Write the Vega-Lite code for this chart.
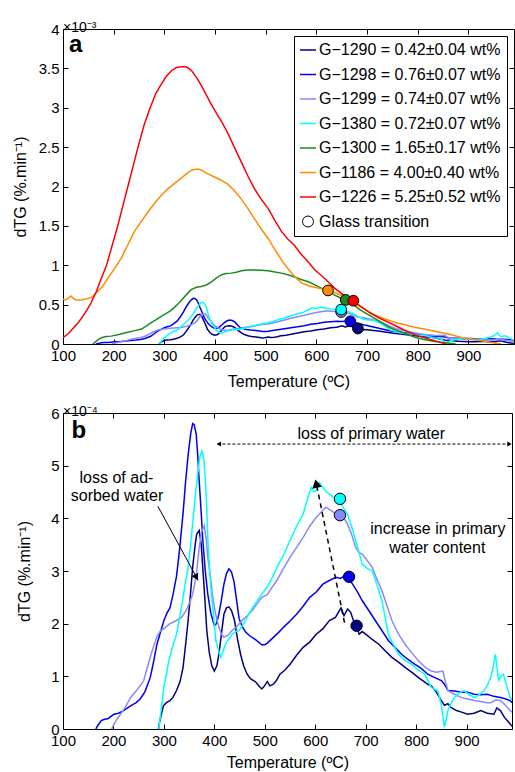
{
"$schema": "https://vega.github.io/schema/vega-lite/v6.json",
"padding": {"left": 11, "top": 20, "right": 1, "bottom": 0},
"config": {
 "font": "Liberation Sans",
 "view": {"stroke": "black", "strokeWidth": 1},
 "axis": {"grid": false, "domain": false, "tickColor": "black", "tickSize": -5, "labelPadding": 9, "labelFontSize": 15, "labelColor": "black", "labelFlush": false, "labelOverlap": false, "titleFontSize": 16, "titleFontWeight": "normal", "titleColor": "black"},
 "axisX": {"titlePadding": 10},
 "axisY": {"titlePadding": 10},
 "title": {"fontSize": 14, "fontWeight": "normal", "anchor": "start", "offset": -13, "color": "black", "frame": "group"}
},
"datasets": {
 "c": [
{"s":"G-1290","T":289,"v":0},{"s":"G-1290","T":293,"v":0.2},{"s":"G-1290","T":299,"v":0.44},{"s":"G-1290","T":305,"v":0.5},{"s":"G-1290","T":312,"v":0.54},{"s":"G-1290","T":318,"v":0.6},{"s":"G-1290","T":325,"v":0.73},{"s":"G-1290","T":332,"v":0.9},{"s":"G-1290","T":338,"v":1.17},{"s":"G-1290","T":343,"v":1.6},{"s":"G-1290","T":348,"v":2.06},{"s":"G-1290","T":353,"v":2.6},{"s":"G-1290","T":357,"v":3.07},{"s":"G-1290","T":362,"v":3.5},{"s":"G-1290","T":365,"v":3.7},{"s":"G-1290","T":370,"v":3.77},{"s":"G-1290","T":374,"v":3.5},{"s":"G-1290","T":377,"v":3.07},{"s":"G-1290","T":381,"v":2.5},{"s":"G-1290","T":385,"v":1.87},{"s":"G-1290","T":390,"v":1.45},{"s":"G-1290","T":395,"v":1.2},{"s":"G-1290","T":400,"v":1.1},{"s":"G-1290","T":405,"v":1.2},{"s":"G-1290","T":409,"v":1.42},{"s":"G-1290","T":414,"v":1.8},{"s":"G-1290","T":419,"v":2.18},{"s":"G-1290","T":424,"v":2.3},{"s":"G-1290","T":429,"v":2.32},{"s":"G-1290","T":434,"v":2.25},{"s":"G-1290","T":440,"v":2.06},{"s":"G-1290","T":446,"v":1.7},{"s":"G-1290","T":452,"v":1.42},{"s":"G-1290","T":458,"v":1.2},{"s":"G-1290","T":465,"v":1.04},{"s":"G-1290","T":472,"v":0.95},{"s":"G-1290","T":481,"v":0.9},{"s":"G-1290","T":488,"v":0.82},{"s":"G-1290","T":494,"v":0.76},{"s":"G-1290","T":498,"v":0.8},{"s":"G-1290","T":505,"v":0.9},{"s":"G-1290","T":510,"v":0.82},{"s":"G-1290","T":517,"v":0.85},{"s":"G-1290","T":523,"v":0.92},{"s":"G-1290","T":530,"v":1.04},{"s":"G-1290","T":540,"v":1.12},{"s":"G-1290","T":550,"v":1.23},{"s":"G-1290","T":563,"v":1.4},{"s":"G-1290","T":576,"v":1.55},{"s":"G-1290","T":589,"v":1.65},{"s":"G-1290","T":602,"v":1.8},{"s":"G-1290","T":615,"v":1.9},{"s":"G-1290","T":628,"v":2.06},{"s":"G-1290","T":640,"v":2.12},{"s":"G-1290","T":651,"v":2.3},{"s":"G-1290","T":657,"v":2.15},{"s":"G-1290","T":664,"v":2.28},{"s":"G-1290","T":670,"v":2.22},{"s":"G-1290","T":676,"v":2.05},{"s":"G-1290","T":682,"v":1.96},{"s":"G-1290","T":687,"v":1.8},{"s":"G-1290","T":693,"v":1.85},{"s":"G-1290","T":700,"v":1.8},{"s":"G-1290","T":713,"v":1.7},{"s":"G-1290","T":726,"v":1.61},{"s":"G-1290","T":739,"v":1.48},{"s":"G-1290","T":752,"v":1.36},{"s":"G-1290","T":765,"v":1.27},{"s":"G-1290","T":778,"v":1.17},{"s":"G-1290","T":791,"v":1.08},{"s":"G-1290","T":804,"v":0.98},{"s":"G-1290","T":813,"v":0.92},{"s":"G-1290","T":823,"v":0.85},{"s":"G-1290","T":830,"v":0.82},{"s":"G-1290","T":840,"v":0.7},{"s":"G-1290","T":850,"v":0.54},{"s":"G-1290","T":856,"v":0.45},{"s":"G-1290","T":863,"v":0.48},{"s":"G-1290","T":869,"v":0.41},{"s":"G-1290","T":880,"v":0.35},{"s":"G-1290","T":890,"v":0.32},{"s":"G-1290","T":902,"v":0.28},{"s":"G-1290","T":915,"v":0.3},{"s":"G-1290","T":928,"v":0.35},{"s":"G-1290","T":941,"v":0.3},{"s":"G-1290","T":954,"v":0.28},{"s":"G-1290","T":960,"v":0.4},{"s":"G-1290","T":967,"v":0.35},{"s":"G-1290","T":975,"v":0.22},{"s":"G-1290","T":986,"v":0.1},{"s":"G-1290","T":990,"v":0.05},
{"s":"G-1298","T":165,"v":0},{"s":"G-1298","T":170,"v":0.08},{"s":"G-1298","T":176,"v":0.16},{"s":"G-1298","T":181,"v":0.18},{"s":"G-1298","T":190,"v":0.2},{"s":"G-1298","T":201,"v":0.28},{"s":"G-1298","T":210,"v":0.3},{"s":"G-1298","T":220,"v":0.35},{"s":"G-1298","T":234,"v":0.44},{"s":"G-1298","T":245,"v":0.5},{"s":"G-1298","T":253,"v":0.57},{"s":"G-1298","T":262,"v":0.7},{"s":"G-1298","T":268,"v":0.85},{"s":"G-1298","T":273,"v":0.98},{"s":"G-1298","T":280,"v":1.3},{"s":"G-1298","T":286,"v":1.6},{"s":"G-1298","T":292,"v":1.8},{"s":"G-1298","T":300,"v":2.06},{"s":"G-1298","T":306,"v":2.2},{"s":"G-1298","T":312,"v":2.3},{"s":"G-1298","T":318,"v":2.55},{"s":"G-1298","T":325,"v":2.9},{"s":"G-1298","T":331,"v":3.4},{"s":"G-1298","T":338,"v":4.1},{"s":"G-1298","T":343,"v":4.7},{"s":"G-1298","T":348,"v":5.2},{"s":"G-1298","T":353,"v":5.6},{"s":"G-1298","T":357,"v":5.8},{"s":"G-1298","T":360,"v":5.78},{"s":"G-1298","T":364,"v":5.6},{"s":"G-1298","T":367,"v":5.2},{"s":"G-1298","T":370,"v":4.7},{"s":"G-1298","T":374,"v":4.1},{"s":"G-1298","T":377,"v":3.6},{"s":"G-1298","T":382,"v":3.0},{"s":"G-1298","T":387,"v":2.56},{"s":"G-1298","T":393,"v":2.2},{"s":"G-1298","T":400,"v":1.96},{"s":"G-1298","T":404,"v":2.0},{"s":"G-1298","T":409,"v":2.18},{"s":"G-1298","T":414,"v":2.45},{"s":"G-1298","T":419,"v":2.75},{"s":"G-1298","T":424,"v":2.95},{"s":"G-1298","T":429,"v":3.04},{"s":"G-1298","T":434,"v":2.98},{"s":"G-1298","T":439,"v":2.8},{"s":"G-1298","T":444,"v":2.45},{"s":"G-1298","T":449,"v":2.1},{"s":"G-1298","T":455,"v":1.95},{"s":"G-1298","T":462,"v":1.84},{"s":"G-1298","T":470,"v":1.77},{"s":"G-1298","T":481,"v":1.7},{"s":"G-1298","T":494,"v":1.6},{"s":"G-1298","T":500,"v":1.6},{"s":"G-1298","T":505,"v":1.63},{"s":"G-1298","T":517,"v":1.74},{"s":"G-1298","T":527,"v":1.83},{"s":"G-1298","T":537,"v":1.93},{"s":"G-1298","T":550,"v":2.05},{"s":"G-1298","T":563,"v":2.18},{"s":"G-1298","T":576,"v":2.33},{"s":"G-1298","T":589,"v":2.5},{"s":"G-1298","T":602,"v":2.6},{"s":"G-1298","T":615,"v":2.75},{"s":"G-1298","T":628,"v":2.82},{"s":"G-1298","T":641,"v":2.88},{"s":"G-1298","T":650,"v":2.86},{"s":"G-1298","T":657,"v":2.9},{"s":"G-1298","T":665,"v":2.88},{"s":"G-1298","T":674,"v":2.75},{"s":"G-1298","T":684,"v":2.6},{"s":"G-1298","T":693,"v":2.44},{"s":"G-1298","T":706,"v":2.25},{"s":"G-1298","T":719,"v":2.06},{"s":"G-1298","T":732,"v":1.87},{"s":"G-1298","T":745,"v":1.68},{"s":"G-1298","T":758,"v":1.55},{"s":"G-1298","T":771,"v":1.42},{"s":"G-1298","T":784,"v":1.32},{"s":"G-1298","T":797,"v":1.23},{"s":"G-1298","T":810,"v":1.15},{"s":"G-1298","T":823,"v":1.04},{"s":"G-1298","T":836,"v":0.98},{"s":"G-1298","T":850,"v":0.92},{"s":"G-1298","T":856,"v":0.85},{"s":"G-1298","T":863,"v":0.73},{"s":"G-1298","T":876,"v":0.72},{"s":"G-1298","T":889,"v":0.7},{"s":"G-1298","T":902,"v":0.7},{"s":"G-1298","T":915,"v":0.66},{"s":"G-1298","T":928,"v":0.65},{"s":"G-1298","T":941,"v":0.66},{"s":"G-1298","T":954,"v":0.62},{"s":"G-1298","T":967,"v":0.6},{"s":"G-1298","T":975,"v":0.58},{"s":"G-1298","T":986,"v":0.54},{"s":"G-1298","T":990,"v":0.5},
{"s":"G-1299","T":196,"v":0},{"s":"G-1299","T":203,"v":0.12},{"s":"G-1299","T":208,"v":0.2},{"s":"G-1299","T":214,"v":0.28},{"s":"G-1299","T":224,"v":0.42},{"s":"G-1299","T":234,"v":0.6},{"s":"G-1299","T":245,"v":0.72},{"s":"G-1299","T":253,"v":0.82},{"s":"G-1299","T":260,"v":0.92},{"s":"G-1299","T":268,"v":1.2},{"s":"G-1299","T":274,"v":1.4},{"s":"G-1299","T":279,"v":1.55},{"s":"G-1299","T":286,"v":1.75},{"s":"G-1299","T":292,"v":1.85},{"s":"G-1299","T":299,"v":1.9},{"s":"G-1299","T":312,"v":2.0},{"s":"G-1299","T":325,"v":2.06},{"s":"G-1299","T":335,"v":2.12},{"s":"G-1299","T":344,"v":2.25},{"s":"G-1299","T":351,"v":2.4},{"s":"G-1299","T":357,"v":2.56},{"s":"G-1299","T":364,"v":2.9},{"s":"G-1299","T":370,"v":3.45},{"s":"G-1299","T":375,"v":3.75},{"s":"G-1299","T":380,"v":3.86},{"s":"G-1299","T":384,"v":3.6},{"s":"G-1299","T":387,"v":3.26},{"s":"G-1299","T":392,"v":2.9},{"s":"G-1299","T":396,"v":2.56},{"s":"G-1299","T":402,"v":2.2},{"s":"G-1299","T":409,"v":1.93},{"s":"G-1299","T":414,"v":1.8},{"s":"G-1299","T":419,"v":1.74},{"s":"G-1299","T":427,"v":1.78},{"s":"G-1299","T":435,"v":1.87},{"s":"G-1299","T":445,"v":1.95},{"s":"G-1299","T":455,"v":2.06},{"s":"G-1299","T":465,"v":2.15},{"s":"G-1299","T":475,"v":2.25},{"s":"G-1299","T":485,"v":2.38},{"s":"G-1299","T":494,"v":2.5},{"s":"G-1299","T":505,"v":2.55},{"s":"G-1299","T":515,"v":2.7},{"s":"G-1299","T":524,"v":2.82},{"s":"G-1299","T":537,"v":3.05},{"s":"G-1299","T":550,"v":3.26},{"s":"G-1299","T":563,"v":3.45},{"s":"G-1299","T":576,"v":3.64},{"s":"G-1299","T":589,"v":3.85},{"s":"G-1299","T":602,"v":4.02},{"s":"G-1299","T":612,"v":4.12},{"s":"G-1299","T":621,"v":4.21},{"s":"G-1299","T":631,"v":4.15},{"s":"G-1299","T":641,"v":4.08},{"s":"G-1299","T":649,"v":4.06},{"s":"G-1299","T":657,"v":4.0},{"s":"G-1299","T":664,"v":3.89},{"s":"G-1299","T":672,"v":3.7},{"s":"G-1299","T":680,"v":3.45},{"s":"G-1299","T":687,"v":3.35},{"s":"G-1299","T":693,"v":3.32},{"s":"G-1299","T":703,"v":3.2},{"s":"G-1299","T":713,"v":3.07},{"s":"G-1299","T":722,"v":2.85},{"s":"G-1299","T":732,"v":2.63},{"s":"G-1299","T":742,"v":2.35},{"s":"G-1299","T":752,"v":2.06},{"s":"G-1299","T":765,"v":1.8},{"s":"G-1299","T":778,"v":1.61},{"s":"G-1299","T":791,"v":1.45},{"s":"G-1299","T":804,"v":1.3},{"s":"G-1299","T":817,"v":1.18},{"s":"G-1299","T":830,"v":1.1},{"s":"G-1299","T":840,"v":1.08},{"s":"G-1299","T":853,"v":1.1},{"s":"G-1299","T":858,"v":0.9},{"s":"G-1299","T":863,"v":0.73},{"s":"G-1299","T":876,"v":0.66},{"s":"G-1299","T":889,"v":0.6},{"s":"G-1299","T":902,"v":0.57},{"s":"G-1299","T":915,"v":0.54},{"s":"G-1299","T":928,"v":0.52},{"s":"G-1299","T":941,"v":0.5},{"s":"G-1299","T":948,"v":0.5},{"s":"G-1299","T":957,"v":0.55},{"s":"G-1299","T":967,"v":0.54},{"s":"G-1299","T":977,"v":0.45},{"s":"G-1299","T":986,"v":0.35},{"s":"G-1299","T":990,"v":0.32},
{"s":"G-1380","T":290,"v":0},{"s":"G-1380","T":295,"v":0.4},{"s":"G-1380","T":300,"v":0.8},{"s":"G-1380","T":305,"v":1.04},{"s":"G-1380","T":310,"v":1.3},{"s":"G-1380","T":315,"v":1.49},{"s":"G-1380","T":320,"v":1.65},{"s":"G-1380","T":325,"v":1.8},{"s":"G-1380","T":331,"v":2.1},{"s":"G-1380","T":338,"v":2.5},{"s":"G-1380","T":343,"v":2.8},{"s":"G-1380","T":348,"v":3.07},{"s":"G-1380","T":353,"v":3.5},{"s":"G-1380","T":357,"v":3.9},{"s":"G-1380","T":362,"v":4.4},{"s":"G-1380","T":367,"v":4.84},{"s":"G-1380","T":371,"v":5.15},{"s":"G-1380","T":375,"v":5.28},{"s":"G-1380","T":378,"v":5.2},{"s":"G-1380","T":380,"v":5.03},{"s":"G-1380","T":384,"v":4.4},{"s":"G-1380","T":387,"v":3.64},{"s":"G-1380","T":390,"v":3.1},{"s":"G-1380","T":393,"v":2.69},{"s":"G-1380","T":398,"v":2.2},{"s":"G-1380","T":403,"v":1.68},{"s":"G-1380","T":408,"v":1.5},{"s":"G-1380","T":413,"v":1.36},{"s":"G-1380","T":418,"v":1.5},{"s":"G-1380","T":422,"v":1.61},{"s":"G-1380","T":428,"v":1.7},{"s":"G-1380","T":435,"v":1.8},{"s":"G-1380","T":442,"v":1.85},{"s":"G-1380","T":449,"v":1.87},{"s":"G-1380","T":458,"v":2.0},{"s":"G-1380","T":468,"v":2.18},{"s":"G-1380","T":481,"v":2.38},{"s":"G-1380","T":494,"v":2.56},{"s":"G-1380","T":505,"v":2.7},{"s":"G-1380","T":515,"v":2.88},{"s":"G-1380","T":524,"v":3.07},{"s":"G-1380","T":537,"v":3.3},{"s":"G-1380","T":550,"v":3.58},{"s":"G-1380","T":563,"v":3.85},{"s":"G-1380","T":576,"v":4.08},{"s":"G-1380","T":584,"v":4.35},{"s":"G-1380","T":592,"v":4.59},{"s":"G-1380","T":597,"v":4.5},{"s":"G-1380","T":602,"v":4.53},{"s":"G-1380","T":608,"v":4.68},{"s":"G-1380","T":615,"v":4.59},{"s":"G-1380","T":622,"v":4.5},{"s":"G-1380","T":628,"v":4.46},{"s":"G-1380","T":636,"v":4.4},{"s":"G-1380","T":642,"v":4.38},{"s":"G-1380","T":648,"v":4.34},{"s":"G-1380","T":656,"v":4.2},{"s":"G-1380","T":664,"v":4.08},{"s":"G-1380","T":672,"v":3.85},{"s":"G-1380","T":680,"v":3.58},{"s":"G-1380","T":687,"v":3.35},{"s":"G-1380","T":693,"v":3.13},{"s":"G-1380","T":703,"v":3.05},{"s":"G-1380","T":713,"v":3.0},{"s":"G-1380","T":722,"v":2.75},{"s":"G-1380","T":732,"v":2.44},{"s":"G-1380","T":739,"v":2.1},{"s":"G-1380","T":745,"v":1.8},{"s":"G-1380","T":755,"v":1.6},{"s":"G-1380","T":765,"v":1.42},{"s":"G-1380","T":778,"v":1.3},{"s":"G-1380","T":791,"v":1.23},{"s":"G-1380","T":804,"v":1.12},{"s":"G-1380","T":817,"v":1.04},{"s":"G-1380","T":824,"v":0.9},{"s":"G-1380","T":830,"v":0.79},{"s":"G-1380","T":837,"v":0.75},{"s":"G-1380","T":843,"v":0.73},{"s":"G-1380","T":850,"v":0.45},{"s":"G-1380","T":856,"v":0.03},{"s":"G-1380","T":860,"v":0.2},{"s":"G-1380","T":863,"v":0.35},{"s":"G-1380","T":870,"v":0.5},{"s":"G-1380","T":876,"v":0.6},{"s":"G-1380","T":885,"v":0.68},{"s":"G-1380","T":895,"v":0.73},{"s":"G-1380","T":905,"v":0.65},{"s":"G-1380","T":915,"v":0.6},{"s":"G-1380","T":925,"v":0.65},{"s":"G-1380","T":935,"v":0.73},{"s":"G-1380","T":942,"v":0.85},{"s":"G-1380","T":948,"v":0.98},{"s":"G-1380","T":953,"v":1.2},{"s":"G-1380","T":957,"v":1.42},{"s":"G-1380","T":961,"v":1.1},{"s":"G-1380","T":964,"v":0.92},{"s":"G-1380","T":968,"v":1.0},{"s":"G-1380","T":973,"v":1.04},{"s":"G-1380","T":980,"v":0.8},{"s":"G-1380","T":986,"v":0.6},{"s":"G-1380","T":990,"v":0.55},
{"s":"G-1300","T":159,"v":0},{"s":"G-1300","T":168,"v":0.5},{"s":"G-1300","T":176,"v":0.8},{"s":"G-1300","T":185,"v":0.95},{"s":"G-1300","T":195,"v":1.0},{"s":"G-1300","T":210,"v":1.2},{"s":"G-1300","T":228,"v":1.5},{"s":"G-1300","T":242,"v":1.7},{"s":"G-1300","T":255,"v":1.9},{"s":"G-1300","T":265,"v":2.3},{"s":"G-1300","T":274,"v":2.7},{"s":"G-1300","T":284,"v":3.1},{"s":"G-1300","T":294,"v":3.5},{"s":"G-1300","T":304,"v":3.9},{"s":"G-1300","T":314,"v":4.3},{"s":"G-1300","T":324,"v":4.9},{"s":"G-1300","T":334,"v":5.6},{"s":"G-1300","T":344,"v":6.3},{"s":"G-1300","T":353,"v":6.9},{"s":"G-1300","T":363,"v":7.2},{"s":"G-1300","T":373,"v":7.3},{"s":"G-1300","T":383,"v":7.5},{"s":"G-1300","T":393,"v":7.9},{"s":"G-1300","T":403,"v":8.4},{"s":"G-1300","T":413,"v":8.8},{"s":"G-1300","T":422,"v":8.95},{"s":"G-1300","T":432,"v":9.0},{"s":"G-1300","T":442,"v":9.1},{"s":"G-1300","T":452,"v":9.3},{"s":"G-1300","T":465,"v":9.4},{"s":"G-1300","T":478,"v":9.4},{"s":"G-1300","T":491,"v":9.35},{"s":"G-1300","T":505,"v":9.3},{"s":"G-1300","T":518,"v":9.15},{"s":"G-1300","T":531,"v":9.0},{"s":"G-1300","T":544,"v":8.8},{"s":"G-1300","T":557,"v":8.5},{"s":"G-1300","T":570,"v":8.2},{"s":"G-1300","T":584,"v":7.9},{"s":"G-1300","T":597,"v":7.5},{"s":"G-1300","T":610,"v":7.1},{"s":"G-1300","T":623,"v":6.7},{"s":"G-1300","T":636,"v":6.2},{"s":"G-1300","T":646,"v":5.9},{"s":"G-1300","T":655,"v":5.6},{"s":"G-1300","T":665,"v":5.3},{"s":"G-1300","T":675,"v":4.9},{"s":"G-1300","T":685,"v":4.4},{"s":"G-1300","T":698,"v":3.9},{"s":"G-1300","T":711,"v":3.4},{"s":"G-1300","T":727,"v":2.8},{"s":"G-1300","T":744,"v":2.1},{"s":"G-1300","T":760,"v":1.7},{"s":"G-1300","T":777,"v":1.3},{"s":"G-1300","T":793,"v":0.9},{"s":"G-1300","T":810,"v":0.6},{"s":"G-1300","T":830,"v":0.35},{"s":"G-1300","T":849,"v":0.2},{"s":"G-1300","T":862,"v":0.1},{"s":"G-1300","T":875,"v":0.0},
{"s":"G-1186","T":100,"v":5.7},{"s":"G-1186","T":105,"v":5.6},{"s":"G-1186","T":110,"v":5.8},{"s":"G-1186","T":116,"v":6.1},{"s":"G-1186","T":120,"v":5.8},{"s":"G-1186","T":126,"v":5.6},{"s":"G-1186","T":135,"v":5.6},{"s":"G-1186","T":145,"v":5.7},{"s":"G-1186","T":156,"v":5.9},{"s":"G-1186","T":166,"v":6.5},{"s":"G-1186","T":178,"v":7.3},{"s":"G-1186","T":189,"v":8.4},{"s":"G-1186","T":202,"v":9.6},{"s":"G-1186","T":215,"v":10.9},{"s":"G-1186","T":228,"v":12.6},{"s":"G-1186","T":241,"v":14.3},{"s":"G-1186","T":255,"v":15.6},{"s":"G-1186","T":268,"v":16.8},{"s":"G-1186","T":281,"v":17.9},{"s":"G-1186","T":294,"v":18.9},{"s":"G-1186","T":307,"v":19.7},{"s":"G-1186","T":320,"v":20.4},{"s":"G-1186","T":334,"v":21.1},{"s":"G-1186","T":347,"v":21.8},{"s":"G-1186","T":355,"v":22.1},{"s":"G-1186","T":362,"v":22.2},{"s":"G-1186","T":368,"v":22.2},{"s":"G-1186","T":373,"v":22.1},{"s":"G-1186","T":380,"v":21.8},{"s":"G-1186","T":386,"v":21.6},{"s":"G-1186","T":399,"v":21.2},{"s":"G-1186","T":412,"v":20.8},{"s":"G-1186","T":425,"v":20.3},{"s":"G-1186","T":438,"v":19.5},{"s":"G-1186","T":452,"v":18.4},{"s":"G-1186","T":465,"v":17.2},{"s":"G-1186","T":478,"v":15.9},{"s":"G-1186","T":491,"v":14.6},{"s":"G-1186","T":505,"v":13.4},{"s":"G-1186","T":515,"v":12.3},{"s":"G-1186","T":524,"v":11.4},{"s":"G-1186","T":535,"v":10.3},{"s":"G-1186","T":546,"v":9.4},{"s":"G-1186","T":558,"v":8.5},{"s":"G-1186","T":570,"v":7.8},{"s":"G-1186","T":584,"v":7.4},{"s":"G-1186","T":597,"v":7.2},{"s":"G-1186","T":610,"v":7.0},{"s":"G-1186","T":623,"v":6.8},{"s":"G-1186","T":637,"v":6.5},{"s":"G-1186","T":652,"v":6.1},{"s":"G-1186","T":665,"v":5.6},{"s":"G-1186","T":679,"v":5.0},{"s":"G-1186","T":695,"v":4.4},{"s":"G-1186","T":711,"v":3.8},{"s":"G-1186","T":734,"v":3.2},{"s":"G-1186","T":757,"v":2.7},{"s":"G-1186","T":777,"v":2.4},{"s":"G-1186","T":796,"v":2.1},{"s":"G-1186","T":820,"v":1.8},{"s":"G-1186","T":842,"v":1.5},{"s":"G-1186","T":865,"v":1.2},{"s":"G-1186","T":888,"v":0.8},{"s":"G-1186","T":907,"v":0.6},{"s":"G-1186","T":927,"v":0.4},{"s":"G-1186","T":940,"v":0.25},{"s":"G-1186","T":954,"v":0.1},{"s":"G-1186","T":965,"v":0.0},
{"s":"G-1226","T":100,"v":0.8},{"s":"G-1226","T":110,"v":1.3},{"s":"G-1226","T":120,"v":2.0},{"s":"G-1226","T":130,"v":2.7},{"s":"G-1226","T":140,"v":3.6},{"s":"G-1226","T":148,"v":4.4},{"s":"G-1226","T":155,"v":5.2},{"s":"G-1226","T":166,"v":6.7},{"s":"G-1226","T":176,"v":8.4},{"s":"G-1226","T":186,"v":10.0},{"s":"G-1226","T":197,"v":12.5},{"s":"G-1226","T":208,"v":15.0},{"s":"G-1226","T":218,"v":17.5},{"s":"G-1226","T":228,"v":20.0},{"s":"G-1226","T":238,"v":22.5},{"s":"G-1226","T":248,"v":25.0},{"s":"G-1226","T":260,"v":27.8},{"s":"G-1226","T":272,"v":30.0},{"s":"G-1226","T":283,"v":31.8},{"s":"G-1226","T":294,"v":33.0},{"s":"G-1226","T":304,"v":34.0},{"s":"G-1226","T":314,"v":34.7},{"s":"G-1226","T":324,"v":35.1},{"s":"G-1226","T":334,"v":35.2},{"s":"G-1226","T":343,"v":35.2},{"s":"G-1226","T":350,"v":34.9},{"s":"G-1226","T":355,"v":34.6},{"s":"G-1226","T":364,"v":33.8},{"s":"G-1226","T":373,"v":32.8},{"s":"G-1226","T":383,"v":31.6},{"s":"G-1226","T":392,"v":30.5},{"s":"G-1226","T":403,"v":29.3},{"s":"G-1226","T":414,"v":28.1},{"s":"G-1226","T":425,"v":26.8},{"s":"G-1226","T":438,"v":25.0},{"s":"G-1226","T":452,"v":23.1},{"s":"G-1226","T":465,"v":21.3},{"s":"G-1226","T":478,"v":19.7},{"s":"G-1226","T":491,"v":18.4},{"s":"G-1226","T":505,"v":17.2},{"s":"G-1226","T":518,"v":15.7},{"s":"G-1226","T":531,"v":14.3},{"s":"G-1226","T":544,"v":13.3},{"s":"G-1226","T":557,"v":12.5},{"s":"G-1226","T":570,"v":11.4},{"s":"G-1226","T":584,"v":10.4},{"s":"G-1226","T":597,"v":9.4},{"s":"G-1226","T":610,"v":8.7},{"s":"G-1226","T":623,"v":7.9},{"s":"G-1226","T":636,"v":7.1},{"s":"G-1226","T":648,"v":6.5},{"s":"G-1226","T":660,"v":5.9},{"s":"G-1226","T":673,"v":5.5},{"s":"G-1226","T":689,"v":4.7},{"s":"G-1226","T":705,"v":4.0},{"s":"G-1226","T":724,"v":3.3},{"s":"G-1226","T":744,"v":2.7},{"s":"G-1226","T":763,"v":2.1},{"s":"G-1226","T":783,"v":1.5},{"s":"G-1226","T":803,"v":1.0},{"s":"G-1226","T":823,"v":0.6},{"s":"G-1226","T":840,"v":0.3},{"s":"G-1226","T":855,"v":0.0}
 ],
 "gt": [
  {"s":"G-1290","T":682,"v":1.96},{"s":"G-1298","T":667,"v":2.89},{"s":"G-1299","T":649,"v":4.06},{"s":"G-1380","T":649,"v":4.37},{"s":"G-1300","T":658,"v":5.6},{"s":"G-1186","T":623,"v":6.8},{"s":"G-1226","T":673,"v":5.5}
 ]
},
"vconcat": [
 {
  "width": 451, "height": 315,
  "title": {"text": "×10⁻³"},
  "layer": [
   {
    "data": {"name": "c"},
    "mark": {"type": "line", "strokeWidth": 1.5, "clip": true},
    "encoding": {
     "x": {"field": "T", "type": "quantitative", "scale": {"domain": [100, 990], "nice": false, "zero": false}, "axis": {"values": [100,200,300,400,500,600,700,800,900], "title": "Temperature (ºC)"}},
     "y": {"field": "v", "type": "quantitative", "scale": {"domain": [0, 40], "nice": false}, "axis": {"values": [0,5,10,15,20,25,30,35,40], "labelExpr": "datum.value/10", "title": "dTG (%.min⁻¹)"}},
     "color": {"field": "s", "type": "nominal", "sort": null,
      "scale": {"domain": ["G-1290","G-1298","G-1299","G-1380","G-1300","G-1186","G-1226","GT"], "range": ["#000080","#0000EE","#8888FF","#00FFFF","#1E8A1E","#FF8C00","#FF0000","#000000"]},
      "legend": {"title": null, "orient": "top-right", "offset": 7, "padding": 6, "strokeColor": "black", "fillColor": "white", "cornerRadius": 0,
       "symbolType": "stroke", "symbolSize": 256, "symbolStrokeWidth": 1.5, "labelFontSize": 16, "labelColor": "black", "labelLimit": 300, "rowPadding": 8.5, "labelOffset": 3,
       "labelExpr": "datum.value == 'GT' ? 'Glass transition' : replace(datum.value, '-', '−') + ' = ' + (datum.value == 'G-1290' ? '0.42±0.04' : datum.value == 'G-1298' ? '0.76±0.07' : datum.value == 'G-1299' ? '0.74±0.07' : datum.value == 'G-1380' ? '0.72±0.07' : datum.value == 'G-1300' ? '1.65±0.17' : datum.value == 'G-1186' ? '4.00±0.40' : '5.25±0.52') + ' wt%'",
       "encode": {"symbols": {"update": {
        "shape": {"signal": "datum.value == 'GT' ? 'circle' : 'stroke'"},
        "size": {"signal": "datum.value == 'GT' ? 120 : 256"},
        "strokeWidth": {"signal": "datum.value == 'GT' ? 1 : 1.5"},
        "fill": {"signal": "datum.value == 'GT' ? 'white' : 'transparent'"}
       }}}
      }}
    }
   },
   {
    "data": {"name": "gt"},
    "mark": {"type": "point", "filled": true, "size": 115, "stroke": "black", "strokeWidth": 1, "opacity": 1},
    "encoding": {
     "x": {"field": "T", "type": "quantitative", "axis": {"orient": "top", "labels": false, "title": null, "values": [100,200,300,400,500,600,700,800,900]}},
     "y": {"field": "v", "type": "quantitative", "axis": {"orient": "right", "labels": false, "title": null, "values": [0,5,10,15,20,25,30,35,40]}},
     "fill": {"field": "s", "type": "nominal", "scale": {"domain": ["G-1290","G-1298","G-1299","G-1380","G-1300","G-1186","G-1226"], "range": ["#000080","#0000EE","#8888FF","#00FFFF","#1E8A1E","#FF8C00","#FF0000"]}, "legend": null}
    }
   },
   {
    "data": {"values": [{"T": 112, "v": 37.1, "t": "a"}]},
    "mark": {"type": "text", "align": "left", "baseline": "alphabetic", "fontSize": 24, "fontWeight": "bold", "color": "black"},
    "encoding": {
     "x": {"field": "T", "type": "quantitative", "axis": null},
     "y": {"field": "v", "type": "quantitative", "axis": null},
     "text": {"field": "t"}
    }
   }
  ],
  "resolve": {"axis": {"x": "independent", "y": "independent"}}
 },
 {
  "width": 449, "height": 316,
  "title": {"text": "×10⁻⁴"},
  "layer": [
   {
    "data": {"name": "c"},
    "transform": [{"filter": {"field": "s", "oneOf": ["G-1290","G-1298","G-1299","G-1380"]}}],
    "mark": {"type": "line", "strokeWidth": 1.5, "clip": true},
    "encoding": {
     "x": {"field": "T", "type": "quantitative", "scale": {"domain": [100, 990], "nice": false, "zero": false}, "axis": {"values": [100,200,300,400,500,600,700,800,900], "title": "Temperature (ºC)", "titlePadding": 6}},
     "y": {"field": "v", "type": "quantitative", "scale": {"domain": [0, 6], "nice": false}, "axis": {"values": [0,1,2,3,4,5,6], "title": "dTG (%.min⁻¹)", "titlePadding": 18}},
     "color": {"field": "s", "type": "nominal", "sort": null, "scale": {"domain": ["G-1290","G-1298","G-1299","G-1380"], "range": ["#000080","#0000EE","#8888FF","#00FFFF"]}, "legend": null}
    }
   },
   {
    "data": {"values": [{"T": 288, "v": 4.23}, {"T": 368, "v": 2.82}]},
    "mark": {"type": "line", "color": "black", "strokeWidth": 1},
    "encoding": {"x": {"field": "T", "type": "quantitative", "axis": null}, "y": {"field": "v", "type": "quantitative", "axis": null}}
   },
   {
    "data": {"values": [{"T": 406, "v": 5.41}, {"T": 986, "v": 5.41}]},
    "mark": {"type": "line", "color": "black", "strokeWidth": 1, "strokeDash": [3, 2]},
    "encoding": {"x": {"field": "T", "type": "quantitative", "axis": null}, "y": {"field": "v", "type": "quantitative", "axis": null}}
   },
   {
    "data": {"values": [{"T": 658, "v": 2.02}, {"T": 603, "v": 4.62}]},
    "mark": {"type": "line", "color": "black", "strokeWidth": 1.5, "strokeDash": [5, 4]},
    "encoding": {"x": {"field": "T", "type": "quantitative", "axis": null}, "y": {"field": "v", "type": "quantitative", "axis": null}}
   },
   {
    "data": {"values": [{"T": 364.5, "v": 2.88}]},
    "mark": {"type": "point", "shape": "triangle-up", "angle": 151, "filled": true, "color": "black", "size": 55, "opacity": 1},
    "encoding": {"x": {"field": "T", "type": "quantitative", "axis": null}, "y": {"field": "v", "type": "quantitative", "axis": null}}
   },
   {
    "data": {"values": [{"T": 602, "v": 4.66}]},
    "mark": {"type": "point", "shape": "triangle-up", "angle": 349, "filled": true, "color": "black", "size": 95, "opacity": 1},
    "encoding": {"x": {"field": "T", "type": "quantitative", "axis": null}, "y": {"field": "v", "type": "quantitative", "axis": null}}
   },
   {
    "data": {"values": [{"T": 409, "v": 5.41}]},
    "mark": {"type": "point", "shape": "triangle-left", "filled": true, "color": "black", "size": 25, "opacity": 1},
    "encoding": {"x": {"field": "T", "type": "quantitative", "axis": null}, "y": {"field": "v", "type": "quantitative", "axis": null}}
   },
   {
    "data": {"values": [{"T": 985, "v": 5.41}]},
    "mark": {"type": "point", "shape": "triangle-right", "filled": true, "color": "black", "size": 25, "opacity": 1},
    "encoding": {"x": {"field": "T", "type": "quantitative", "axis": null}, "y": {"field": "v", "type": "quantitative", "axis": null}}
   },
   {
    "data": {"name": "gt"},
    "transform": [{"filter": {"field": "s", "oneOf": ["G-1290","G-1298","G-1299","G-1380"]}}],
    "mark": {"type": "point", "filled": true, "size": 130, "stroke": "black", "strokeWidth": 1, "opacity": 1},
    "encoding": {
     "x": {"field": "T", "type": "quantitative", "axis": {"orient": "top", "labels": false, "title": null, "values": [100,200,300,400,500,600,700,800,900]}},
     "y": {"field": "v", "type": "quantitative", "axis": {"orient": "right", "labels": false, "title": null, "values": [0,1,2,3,4,5,6]}},
     "fill": {"field": "s", "type": "nominal", "scale": {"domain": ["G-1290","G-1298","G-1299","G-1380"], "range": ["#000080","#0000EE","#8888FF","#00FFFF"]}, "legend": null}
    }
   },
   {
    "data": {"values": [
     {"T": 206, "v": 4.76, "t": "loss of ad-"},
     {"T": 207, "v": 4.42, "t": "sorbed water"},
     {"T": 711, "v": 5.6, "t": "loss of primary water"},
     {"T": 843, "v": 3.8, "t": "increase in primary"},
     {"T": 842, "v": 3.43, "t": "water content"}
    ]},
    "mark": {"type": "text", "align": "center", "baseline": "middle", "fontSize": 16, "color": "black"},
    "encoding": {"x": {"field": "T", "type": "quantitative", "axis": null}, "y": {"field": "v", "type": "quantitative", "axis": null}, "text": {"field": "t"}}
   },
   {
    "data": {"values": [{"T": 117, "v": 5.52, "t": "b"}]},
    "mark": {"type": "text", "align": "left", "baseline": "alphabetic", "fontSize": 24, "fontWeight": "bold", "color": "black"},
    "encoding": {"x": {"field": "T", "type": "quantitative", "axis": null}, "y": {"field": "v", "type": "quantitative", "axis": null}, "text": {"field": "t"}}
   }
  ],
  "resolve": {"axis": {"x": "independent", "y": "independent"}}
 }
],
"align": "none",
"spacing": 14,
"resolve": {"scale": {"color": "independent", "fill": "independent", "x": "independent", "y": "independent"}}
}
